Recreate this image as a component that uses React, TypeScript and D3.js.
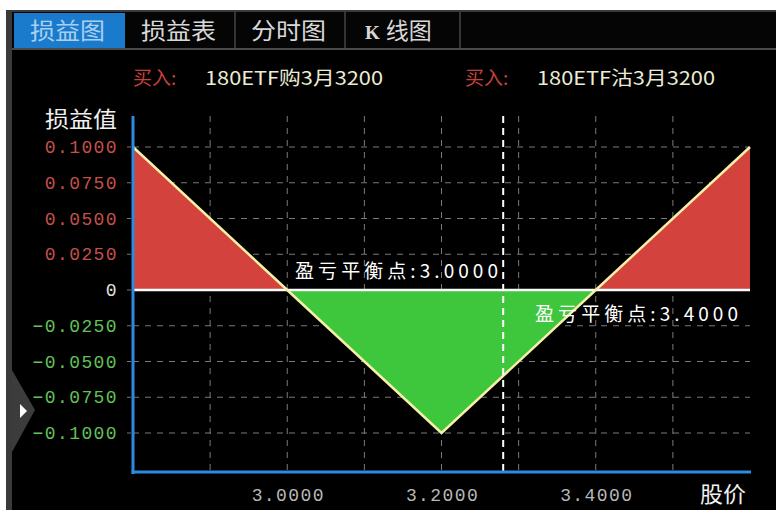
import React from "react";
import * as d3 from "d3";

const prices = [2.8, 3.0, 3.2, 3.4, 3.6];
const pnl = [0.1, 0, -0.1, 0, 0.1];
const yTicks = [0.1, 0.075, 0.05, 0.025, 0, -0.025, -0.05, -0.075, -0.1];
const xLabelTicks = [3.0, 3.2, 3.4];
const xGridTicks = [2.9, 3.0, 3.1, 3.2, 3.3, 3.4, 3.5];
const breakevens = [3.0, 3.4];
const cursorPrice = 3.28;
const tabs = ["损益图", "损益表", "分时图", "K线图"];
const legs = ["180ETF购3月3200", "180ETF沽3月3200"];

const W = 776;
const H = 510;
const mono = "'Liberation Mono', 'DejaVu Sans Mono', monospace";
const cjk = "'Noto Sans CJK SC', 'Noto Sans', sans-serif";

export default function App() {
  const x = d3.scaleLinear().domain([2.8, 3.6]).range([133, 750]);
  const y = d3.scaleLinear().domain([-0.1, 0.1]).range([433, 147]);
  const pts = prices.map((p, i) => [p, pnl[i]] as [number, number]);
  const line = d3.line<[number, number]>().x((d) => x(d[0])).y((d) => y(d[1]));
  const area = d3
    .area<[number, number]>()
    .x((d) => x(d[0]))
    .y0(y(0))
    .y1((d) => y(d[1]));
  const fmt = (v: number) => (v === 0 ? "0" : d3.format(".4f")(v));
  const tabX = [14, 125, 235, 345, 460];

  return (
    <svg
      width={W}
      height={H}
      style={{ position: "absolute", left: 0, top: 0, background: "#fff" }}
    >
      <defs>
        <clipPath id="above">
          <rect x={0} y={0} width={W} height={y(0)} />
        </clipPath>
        <clipPath id="below">
          <rect x={0} y={y(0)} width={W} height={H} />
        </clipPath>
      </defs>
      {/* frame */}
      <rect x={6} y={10} width={W - 6} height={H - 10} fill="#3a3a3a" />
      <rect x={12} y={12} width={W - 12} height={H - 12} fill="#000" />
      {/* tab bar */}
      <rect x={12} y={12} width={W - 12} height={36} fill="#050505" />
      <line x1={12} x2={W} y1={49} y2={49} stroke="#4a4a4a" strokeWidth={2} />
      <rect x={tabX[0]} y={13} width={tabX[1] - tabX[0]} height={35} fill="#1a7bcc" />
      {tabs.map((t, i) => (
        <g key={t}>
          {i > 0 && (
            <line x1={tabX[i + 1]} x2={tabX[i + 1]} y1={12} y2={48} stroke="#444" strokeWidth={1.5} />
          )}
          {i === 3 ? (
            <text x={365} y={39} fontFamily={cjk} fontSize={23} fill="#d8d8d8">
              <tspan fontFamily="'Liberation Serif', serif" fontWeight="bold" fontSize={19}>K</tspan>
              <tspan dx={6}>线图</tspan>
            </text>
          ) : (
            <text
              x={tabX[i] + 16}
              y={39}
              fontFamily={cjk}
              fontSize={23}
              fill={i === 0 ? "#a9cff0" : "#d8d8d8"}
              textLength={75}
              lengthAdjust="spacingAndGlyphs"
            >
              {t}
            </text>
          )}
        </g>
      ))}
      {/* legs */}
      {legs.map((l, i) => (
        <g key={l} transform={`translate(${i === 0 ? 133 : 465},85)`}>
          <text x={0} y={0} fontFamily={cjk} fontSize={19} fill="#c8403c">
            买入:
          </text>
          <text x={72} y={0} fontFamily={cjk} fontSize={19} fill="#ecebd6" textLength={178} lengthAdjust="spacingAndGlyphs">
            {l}
          </text>
        </g>
      ))}
      {/* grid */}
      {yTicks
        .filter((v) => v !== 0)
        .map((v) => (
          <line
            key={"h" + v}
            x1={133}
            x2={750}
            y1={y(v)}
            y2={y(v)}
            stroke="#7a7a7a"
            strokeWidth={1}
            strokeDasharray="6,6"
          />
        ))}
      {xGridTicks.map((v) => (
        <line
          key={"v" + v}
          x1={x(v)}
          x2={x(v)}
          y1={116}
          y2={472}
          stroke="#7a7a7a"
          strokeWidth={1}
          strokeDasharray="6,6"
        />
      ))}
      {/* areas */}
      <path d={area(pts) ?? ""} fill="#d4423d" clipPath="url(#above)" />
      <path d={area(pts) ?? ""} fill="#3ec63c" clipPath="url(#below)" />
      {/* zero line */}
      <line x1={133} x2={750} y1={y(0)} y2={y(0)} stroke="#ffffff" strokeWidth={2.5} />
      {/* payoff line */}
      <path d={line(pts) ?? ""} fill="none" stroke="#f6f0a6" strokeWidth={2.5} />
      {/* cursor */}
      <line
        x1={x(cursorPrice)}
        x2={x(cursorPrice)}
        y1={116}
        y2={472}
        stroke="#ffffff"
        strokeWidth={2}
        strokeDasharray="7,5"
      />
      {/* axes */}
      <line x1={133} x2={133} y1={116} y2={474} stroke="#2a8be0" strokeWidth={3} />
      <line x1={131.5} x2={751} y1={472} y2={472} stroke="#2a8be0" strokeWidth={3} />
      {/* y ticks */}
      {yTicks.map((v) => (
        <g key={"t" + v}>
          <line x1={127} x2={131} y1={y(v)} y2={y(v)} stroke="#777" strokeWidth={1} />
          <text
            x={118}
            y={y(v) + 6}
            textAnchor="end"
            fontFamily={mono}
            fontSize={18}
            letterSpacing={1.4}
            fill={v > 0 ? "#c4504a" : v < 0 ? "#62c258" : "#e0e0e0"}
          >
            {fmt(v)}
          </text>
        </g>
      ))}
      <text x={45} y={127} fontFamily={cjk} fontSize={22} fill="#f0f0f0" textLength={72} lengthAdjust="spacingAndGlyphs">
        损益值
      </text>
      {/* x ticks */}
      {xLabelTicks.map((v) => (
        <text
          key={"x" + v}
          x={x(v) + 1}
          y={501}
          textAnchor="middle"
          fontFamily={mono}
          fontSize={18}
          letterSpacing={1.4}
          fill="#b8b8b8"
        >
          {d3.format(".4f")(v)}
        </text>
      ))}
      <text x={700} y={502} fontFamily={cjk} fontSize={22} fill="#f0f0f0" textLength={46} lengthAdjust="spacingAndGlyphs">
        股价
      </text>
      {/* breakeven labels */}
      {breakevens.map((b, i) => (
        <text
          key={"b" + b}
          x={i === 0 ? 295 : 535}
          y={i === 0 ? 278 : 321}
          fontFamily={cjk}
          fontSize={19}
          fill="#ffffff"
          textLength={203}
          lengthAdjust="spacing"
        >
          {"盈亏平衡点:" + d3.format(".4f")(b)}
        </text>
      ))}
      {/* side flap */}
      <path d="M12,370 L35,410 L12,452 Z" fill="#3c3c3c" />
      <path d="M20,404 L27,411 L20,418 Z" fill="#ffffff" />
    </svg>
  );
}
